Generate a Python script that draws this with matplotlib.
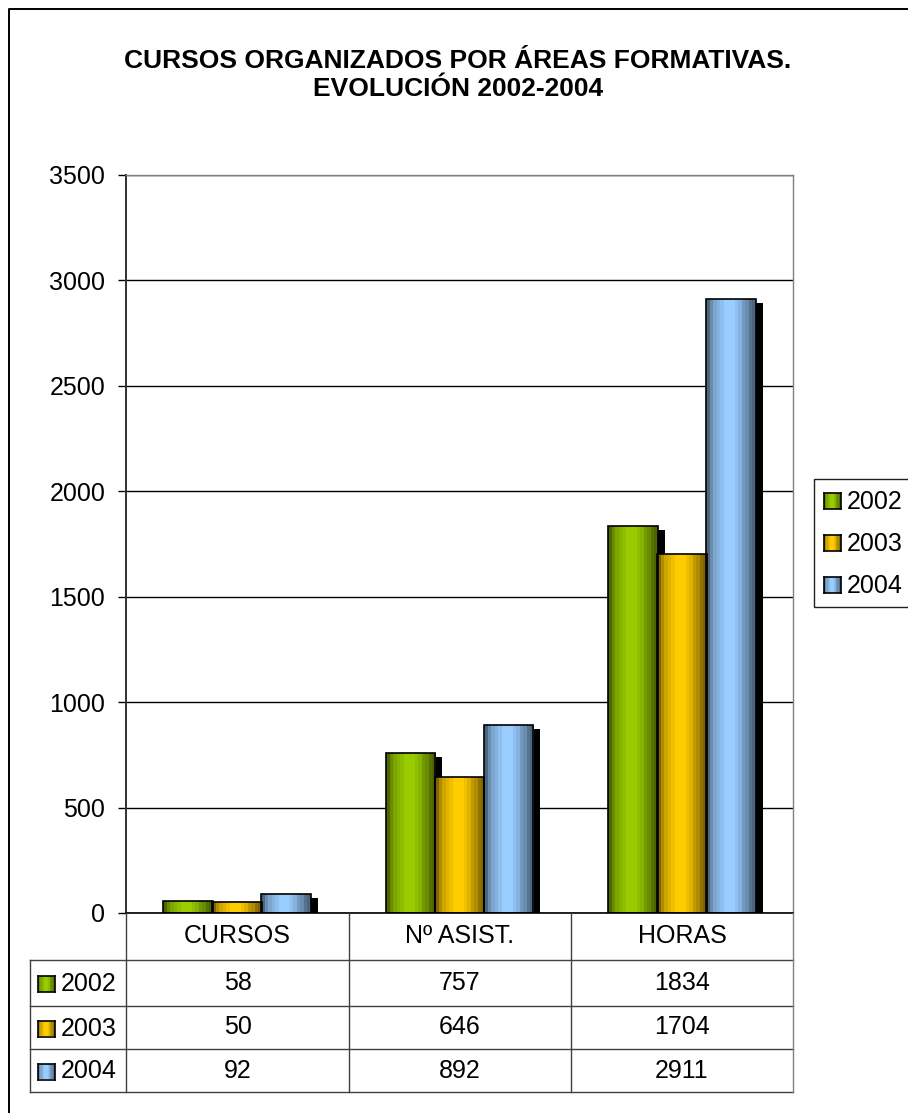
import numpy as np
import matplotlib
matplotlib.use("Agg")
import matplotlib.pyplot as plt
from matplotlib.colors import LinearSegmentedColormap
from matplotlib.transforms import ScaledTranslation
from matplotlib.lines import Line2D
from matplotlib.patches import Rectangle

# --- data ---
categories = ["CURSOS", "Nº ASIST.", "HORAS"]
years = ["2002", "2003", "2004"]
vals_2002 = [58, 757, 1834]
vals_2003 = [50, 646, 1704]
vals_2004 = [92, 892, 2911]
series = [vals_2002, vals_2003, vals_2004]
yticks = [0, 500, 1000, 1500, 2000, 2500, 3000, 3500]
title_lines = ["CURSOS ORGANIZADOS POR ÁREAS FORMATIVAS.", "EVOLUCIÓN 2002-2004"]

# light / dark shades for the cylinder-like gradient
LIGHT = ["#99CC00", "#FFCC00", "#99CCFF"]
DARK = ["#4D6600", "#806600", "#4D6680"]

plt.rcParams["font.family"] = ["Liberation Sans", "DejaVu Sans"]
FS = 18

W, H = 908, 1113
fig = plt.figure(figsize=(W / 100, H / 100), dpi=100)


def fx(px):
    return px / W


def fy(py):
    return 1 - py / H


def make_cmap(i):
    return LinearSegmentedColormap.from_list(f"c{i}", [DARK[i], LIGHT[i]])


# horizontal band profile: dark edges, light just left of centre
t = np.linspace(0, 1, 14)
profile = np.sin(np.pi * t ** 0.85) ** 1.1
profile = np.round(profile * 8) / 8
grad = profile.reshape(1, -1)

# outer chart border (only top / left visible)
fig.add_artist(Line2D([fx(9), fx(9), fx(920)], [fy(1120), fy(9), fy(9)],
                      transform=fig.transFigure, color="black", lw=1.4))

# title, two lines placed on their baselines
for line, base in zip(title_lines, [68, 96]):
    fig.text(fx(458), fy(base), line, ha="center", va="baseline",
             fontsize=19, fontweight="bold")

# --- main plot area ---
ax = fig.add_axes([fx(126), fy(913), (793 - 126) / W, (913 - 175) / H])
ax.set_xlim(0, 3)
ax.set_ylim(0, 3500)
ax.set_yticks(yticks)
ax.set_yticklabels([str(v) for v in yticks], fontsize=FS)
ax.set_xticks([])
ax.tick_params(axis="y", length=6, width=1, pad=9, color="black")
ax.set_axisbelow(True)
ax.yaxis.grid(True, color="black", lw=1.0)
for s in ["top", "right"]:
    ax.spines[s].set_color("#808080")
    ax.spines[s].set_linewidth(1.0)
ax.spines["left"].set_color("#303030")
ax.spines["left"].set_linewidth(1.4)
ax.spines["bottom"].set_color("black")
ax.spines["bottom"].set_linewidth(1.2)

bw = 0.224
x = np.arange(len(categories)) + 0.5
shift = ScaledTranslation(7 / 100, -4 / 100, fig.dpi_scale_trans)
for i, vals in enumerate(series):
    xs = x + (i - 1) * 0.22
    shadows = ax.bar(xs, vals, bw, color="black", zorder=1)
    for p in shadows:
        p.set_transform(ax.transData + shift)
    bars = ax.bar(xs, vals, bw, facecolor="none", edgecolor="black",
                  lw=1.2, zorder=3)
    for p in bars:
        x0 = p.get_x()
        im = ax.imshow(grad, cmap=make_cmap(i), vmin=0, vmax=1,
                       extent=[x0, x0 + bw, 0, p.get_height()],
                       aspect="auto", zorder=2, interpolation="nearest")
        im.set_clip_path(p)
ax.set_xlim(0, 3)
ax.set_ylim(0, 3500)


def key_box(px, py, i, w=17, h=16):
    k = fig.add_axes([fx(px), fy(py + h), w / W, h / H])
    k.imshow(grad, cmap=make_cmap(i), vmin=0, vmax=1, aspect="auto",
             interpolation="nearest")
    k.set_xticks([])
    k.set_yticks([])
    for s in k.spines.values():
        s.set_color("black")
        s.set_linewidth(1.2)


# --- data table ---
LC = "#404040"
col_edges = [126, 349, 571, 793]
row_edges = [913, 960, 1006, 1049, 1092]


def hline(x0, x1, y, c=LC):
    fig.add_artist(Line2D([fx(x0), fx(x1)], [fy(y), fy(y)],
                          transform=fig.transFigure, color=c, lw=1.0))


def vline(xp, y0, y1, c=LC):
    fig.add_artist(Line2D([fx(xp), fx(xp)], [fy(y0), fy(y1)],
                          transform=fig.transFigure, color=c, lw=1.0))


for r in row_edges[1:]:
    hline(30, 793, r)
vline(30, 960, 1092)
vline(126, 913, 1092)
vline(349, 913, 1092)
vline(571, 913, 1092)
vline(793, 913, 1092, c="#808080")

for j, cat in enumerate(categories):
    cx = (col_edges[j] + col_edges[j + 1]) / 2
    fig.text(fx(cx), fy(936), cat, ha="center", va="center", fontsize=FS)

for i, (yr, vals) in enumerate(zip(years, series)):
    cy = (row_edges[i + 1] + row_edges[i + 2]) / 2
    key_box(38, cy - 7, i)
    fig.text(fx(61), fy(cy + 1), yr, ha="left", va="center", fontsize=FS)
    for j, v in enumerate(vals):
        cx = (col_edges[j] + col_edges[j + 1]) / 2
        fig.text(fx(cx), fy(cy), str(v), ha="center", va="center", fontsize=FS)

# --- legend at right ---
fig.add_artist(Rectangle((fx(814), fy(607)), fx(960) - fx(814), fy(479) - fy(607),
                         transform=fig.transFigure, fill=False,
                         edgecolor="#202020", lw=1.0))
for i, yr in enumerate(years):
    cy = 501 + i * 42
    key_box(824, cy - 8, i)
    fig.text(fx(847), fy(cy + 1), yr, ha="left", va="center", fontsize=FS)

fig.savefig("out.png", dpi=100)
